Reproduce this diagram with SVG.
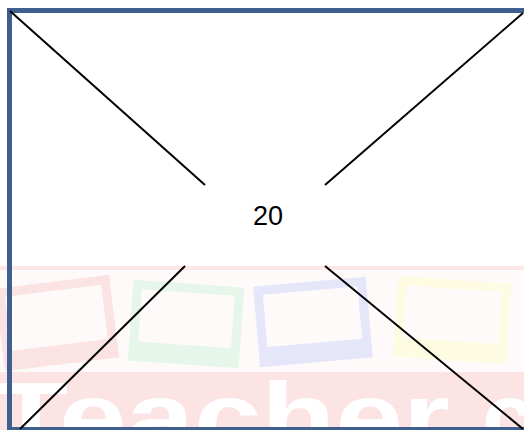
<svg xmlns="http://www.w3.org/2000/svg" width="524" height="430" viewBox="0 0 524 430">
  <style>
    .frame { fill: none; stroke-width: 9; }
    .diag { stroke: #000; stroke-width: 2; fill: none; }
    .label { font-family: "Liberation Sans", Arial, sans-serif; font-size: 27px; fill: #000; }
    .wm { font-family: "Liberation Sans", Arial, sans-serif; font-weight: bold; font-size: 96px; fill: #ffffff; }
  </style>
  <rect x="0" y="0" width="524" height="430" fill="#ffffff"/>
  <g id="watermark">
    <rect x="0" y="266" width="524" height="4" fill="#fce6e6"/>
    <rect x="0" y="270" width="524" height="102" fill="#fefafa"/>
    <g transform="rotate(-7 57 323)">
      <rect class="frame" x="4" y="286" width="106" height="74" stroke="#fbe3e3"/>
      <rect x="0" y="345" width="114" height="18" fill="#fbe3e3"/>
    </g>
    <g transform="rotate(4 186 325)">
      <rect class="frame" x="135" y="288" width="102" height="72" stroke="#e6f6ea"/>
      <rect x="131" y="345" width="110" height="18" fill="#e6f6ea"/>
    </g>
    <g transform="rotate(-5 312 323)">
      <rect class="frame" x="261" y="286" width="104" height="72" stroke="#e6e6fb"/>
      <rect x="257" y="343" width="112" height="18" fill="#e6e6fb"/>
    </g>
    <g transform="rotate(4 452 321)">
      <rect class="frame" x="400" y="284" width="104" height="72" stroke="#fdfbe2"/>
      <rect x="396" y="341" width="112" height="18" fill="#fdfbe2"/>
    </g>
    <rect x="0" y="372" width="524" height="58" fill="#fde4e4"/>
    <text class="wm" x="-6" y="450" textLength="456" lengthAdjust="spacingAndGlyphs">Teacher</text>
    <text class="wm" x="482" y="450">c</text>
  </g>
  <rect id="border" x="9.5" y="10.5" width="530" height="419" fill="none" stroke="#3f5f8f" stroke-width="5"/>
  <g id="connectors">
    <line class="diag" x1="10" y1="11" x2="205" y2="185"/>
    <line class="diag" x1="523" y1="13" x2="325" y2="185"/>
    <line class="diag" x1="185" y1="266" x2="20" y2="429"/>
    <line class="diag" x1="325" y1="266" x2="523" y2="429"/>
  </g>
  <g id="center-label">
    <text class="label" x="268" y="225" text-anchor="middle">20</text>
  </g>
</svg>
